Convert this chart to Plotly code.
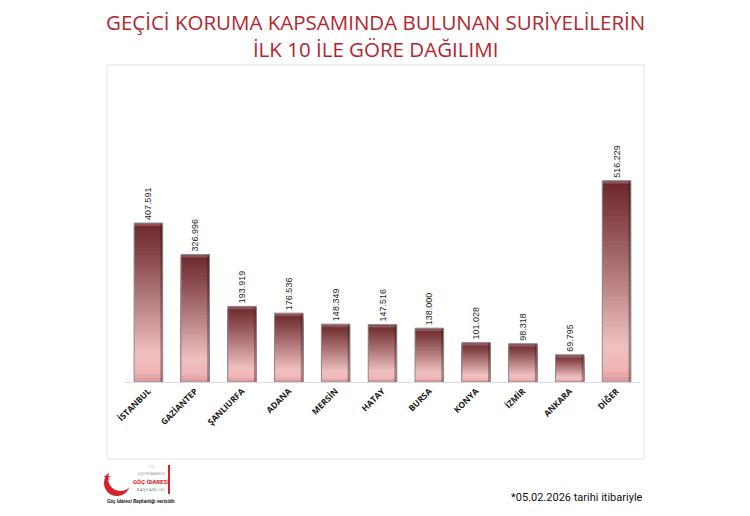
import plotly.graph_objects as go

# data
cities = ["İSTANBUL", "GAZİANTEP", "ŞANLIURFA", "ADANA", "MERSİN", "HATAY",
          "BURSA", "KONYA", "İZMİR", "ANKARA", "DİĞER"]
people = [407591, 326996, 193919, 176536, 148349, 147516,
          138000, 101028, 98318, 69795, 516229]
title_lines = ["GEÇİCİ KORUMA KAPSAMINDA BULUNAN SURİYELİLERİN",
               "İLK 10 İLE GÖRE DAĞILIMI"]
source_note = "Göç İdaresi Başkanlığı verisidir."
date_note = "*05.02.2026 tarihi itibariyle"

W, H = 750, 516
OFF = 8  # page body margin
L, R = 125 - OFF, W - (640 - OFF)
TOP, BASE = 90 - OFF, 382 - OFF
PX_PER_UNIT = 0.00039
ymax = (BASE - TOP) / PX_PER_UNIT
BAR_W = 0.61


def px(x):
    return (x - OFF - L) / (W - L - R)


def py(y):
    return (BASE - (y - OFF)) / (BASE - TOP)


def hexrgb(h):
    h = h.lstrip('#')
    return tuple(int(h[i:i + 2], 16) for i in (0, 2, 4))


# vertical gradient, 0 = bottom, 1 = top
stops = [(0.0, '#dd9799'), (0.07, '#f0b7b8'), (0.18, '#f0c0c0'),
         (0.45, '#c08a8b'), (0.75, '#8f5153'), (1.0, '#6a2629')]


def grad(h):
    for (a, ca), (b, cb) in zip(stops, stops[1:]):
        if a <= h <= b:
            t = (h - a) / (b - a)
            c1, c2 = hexrgb(ca), hexrgb(cb)
            r, g, bl = (round(c1[i] + (c2[i] - c1[i]) * t) for i in range(3))
            return f'rgb({r},{g},{bl})'
    return stops[-1][1]


labels = [f"{v:,}".replace(',', '.') for v in people]

fig = go.Figure()
N = 40
for k in range(N):
    frac = 1 - k / N
    fig.add_trace(go.Bar(
        x=cities, y=[v * frac for v in people], width=BAR_W,
        marker=dict(color=grad(frac - 0.5 / N), line=dict(width=0)),
        text=labels if k == 0 else None,
        textposition='outside' if k == 0 else 'none',
        textangle=-90, constraintext='none',
        textfont=dict(size=9, color='#1e1e1e', family='Liberation Sans'),
        cliponaxis=False, hoverinfo='skip', showlegend=False,
    ))

# top bevel highlight
bevel = 3 / PX_PER_UNIT
fig.add_trace(go.Bar(
    x=cities, y=[bevel] * len(people), base=[v - bevel for v in people],
    width=BAR_W, marker=dict(color='rgba(255,230,230,0.22)', line=dict(width=0)),
    hoverinfo='skip', showlegend=False,
))
# right-edge shadow for the bevel look
fig.add_trace(go.Bar(
    x=cities, y=people, width=0.05, offset=BAR_W / 2 - 0.05,
    marker=dict(color='rgba(40,10,10,0.35)', line=dict(width=0)),
    hoverinfo='skip', showlegend=False,
))
# outline
fig.add_trace(go.Bar(
    x=cities, y=people, width=BAR_W,
    marker=dict(color='rgba(0,0,0,0)', line=dict(color='#8c8c8c', width=1)),
    hoverinfo='skip', showlegend=False,
))

shapes = [
    dict(type='rect', xref='paper', yref='paper',
         x0=px(107), x1=px(644), y0=py(459), y1=py(65),
         line=dict(color='#e3e3e3', width=1), layer='below'),
    # logo crescent
    dict(type='circle', xref='paper', yref='paper',
         x0=px(104), x1=px(130), y0=py(496), y1=py(470),
         fillcolor='#d7202a', line=dict(width=0)),
    dict(type='circle', xref='paper', yref='paper',
         x0=px(108), x1=px(133), y0=py(491), y1=py(465),
         fillcolor='white', line=dict(width=0)),
    dict(type='line', xref='paper', yref='paper',
         x0=px(169), x1=px(169), y0=py(494), y1=py(465),
         line=dict(color='#d7202a', width=2)),
]


def note(text, x, y, size, color, xanchor='center', **font):
    return dict(text=text, x=px(x), y=py(y), xref='paper', yref='paper',
                xanchor=xanchor, yanchor='middle', showarrow=False,
                font=dict(size=size, color=color, **font))


annotations = [
    note('<br>'.join(title_lines), 375, 35, 20.5, '#b3262f', family='Open Sans'),
    note(date_note, 645, 497, 11, '#111111', xanchor='right',
         family='Liberation Sans Narrow, Roboto'),
    note(source_note, 105, 501, 5, '#222222', xanchor='left',
         family='Roboto', style='italic', weight='bold'),
    note('★', 107, 476, 9, '#d7202a'),
    note('T.C.', 151, 467, 3, '#888888'),
    note('İÇİŞLERİ BAKANLIĞI', 151, 473, 3, '#888888'),
    note('GÖÇ İDARESİ', 151, 481, 6, '#d7202a', weight='bold', family='Roboto'),
    note('B A Ş K A N L I Ğ I', 151, 489, 3.5, '#555555'),
]

fig.update_layout(
    width=W, height=H,
    margin=dict(l=L, r=R, t=TOP, b=H - BASE),
    barmode='overlay',
    paper_bgcolor='white', plot_bgcolor='white',
    xaxis=dict(showline=True, linecolor='#dcdcdc', linewidth=1, ticks='',
               tickangle=-45, showgrid=False,
               tickfont=dict(size=8.5, color='#1a1a1a', family='Open Sans', weight='bold')),
    yaxis=dict(range=[0, ymax], visible=False),
    shapes=shapes, annotations=annotations,
    font=dict(family='Open Sans'),
)

fig.write_html("out.html")
